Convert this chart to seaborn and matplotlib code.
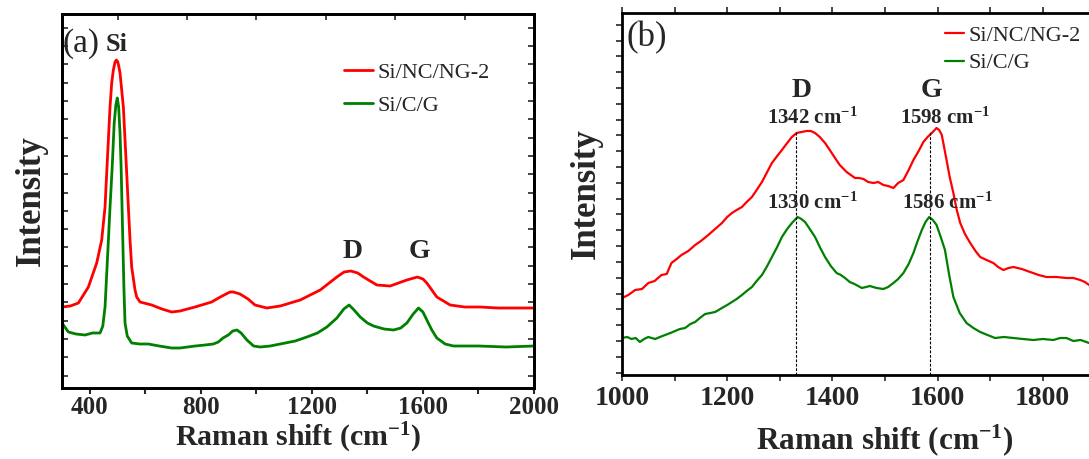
import numpy as np
import pandas as pd
import seaborn as sns
import matplotlib.pyplot as plt
from matplotlib.ticker import FixedLocator, NullFormatter

# Panel (a): full-range Raman spectra (intensity in arbitrary units)
shift_a_red = [300, 330, 359, 395, 425, 443, 455, 461, 467, 473, 479, 485, 491, 496, 501, 505,
               509, 515, 521, 527, 533, 539, 545, 551, 563, 569, 581, 623, 660, 695, 725, 779,
               839, 870, 905, 917, 941, 970, 995, 1038, 1086, 1158, 1230, 1290, 1316, 1340, 1365,
               1386, 1434, 1482, 1542, 1580, 1600, 1614, 1650, 1698, 1750, 1806, 1870, 1926, 2000]
int_a_red = [81, 82, 85, 101, 125, 148, 181, 215, 248, 281, 305, 318, 326, 328, 326, 321,
             315, 298, 281, 248, 215, 181, 148, 121, 98, 91, 86, 83, 79, 76, 77, 81,
             86, 91, 96, 96, 94, 89, 83, 80, 82, 88, 98, 111, 116, 117, 115,
             111, 103, 102, 108, 111, 109, 105, 91, 83, 81, 81, 80, 80, 80]

shift_a_green = [300, 323, 350, 383, 410, 437, 447, 455, 463, 473, 481, 488, 494, 499, 504, 509,
                 513, 519, 523, 527, 535, 551, 580, 611, 650, 695, 725, 780, 815, 845, 863, 880,
                 899, 915, 930, 945, 966, 990, 1014, 1050, 1086, 1140, 1182, 1220, 1254, 1290,
                 1315, 1334, 1352, 1374, 1400, 1422, 1460, 1494, 1520, 1542, 1565, 1584, 1600,
                 1614, 1632, 1650, 1680, 1710, 1800, 1900, 2000]
int_a_green = [65, 56, 54, 53, 55, 55, 62, 81, 125, 181, 222, 265, 283, 290, 281, 255,
               220, 148, 100, 65, 52, 45, 44, 44, 42, 40, 40, 42, 43, 44, 46, 50,
               53, 57, 58, 55, 48, 42, 41, 42, 44, 47, 51, 55, 61, 70,
               79, 83, 78, 71, 65, 62, 59, 58, 60, 65, 74, 80, 76,
               68, 58, 50, 44, 42, 42, 41, 42]

# Panel (b): D/G band region
shift_b_red = [1000, 1012, 1025, 1038, 1050, 1062, 1075, 1085, 1094, 1104, 1113, 1126, 1139, 1150,
               1164, 1177, 1190, 1200, 1209, 1218, 1228, 1237, 1247, 1256, 1266, 1275, 1285, 1295,
               1304, 1314, 1323, 1332, 1341, 1351, 1359, 1367, 1376, 1386, 1395, 1405, 1414, 1427,
               1443, 1451, 1459, 1468, 1478, 1487, 1497, 1506, 1516, 1525, 1535, 1545, 1554, 1564,
               1573, 1581, 1589, 1598, 1603, 1608, 1617, 1623, 1630, 1636, 1643, 1652, 1662, 1672,
               1681, 1693, 1706, 1715, 1725, 1735, 1744, 1760, 1776, 1792, 1807, 1826, 1845, 1858,
               1871, 1880, 1888, 1900]
int_b_red = [77, 80, 85, 86, 92, 94, 100, 101, 112, 116, 120, 124, 130, 134,
             140, 146, 152, 158, 162, 165, 168, 173, 178, 185, 193, 202, 212, 219,
             225, 232, 238, 242, 243, 244, 244, 242, 238, 232, 225, 217, 210, 203,
             197, 197, 196, 193, 192, 193, 190, 189, 187, 192, 195, 205, 215, 224,
             233, 238, 242, 247, 245, 240, 215, 198, 182, 166, 152, 141, 132, 124,
             118, 115, 112, 108, 105, 107, 108, 106, 103, 100, 98, 98, 97, 97,
             95, 93, 90, 88]

shift_b_green = [1000, 1010, 1018, 1026, 1034, 1042, 1050, 1063, 1072, 1082, 1092, 1101, 1110, 1120,
                 1130, 1139, 1148, 1158, 1168, 1177, 1190, 1200, 1209, 1218, 1228, 1237, 1247, 1256,
                 1266, 1275, 1285, 1295, 1304, 1314, 1323, 1334, 1341, 1348, 1357, 1367, 1376, 1386,
                 1397, 1408, 1416, 1424, 1433, 1442, 1456, 1464, 1471, 1484, 1497, 1506, 1516, 1525,
                 1535, 1545, 1554, 1562, 1570, 1577, 1584, 1591, 1598, 1606, 1614, 1622, 1630, 1642,
                 1655, 1668, 1681, 1695, 1709, 1726, 1744, 1762, 1782, 1800, 1820, 1833, 1845, 1858,
                 1872, 1888, 1900]
int_b_green = [37, 38, 36, 37, 33, 36, 38, 36, 38, 40, 42, 44, 46, 47,
               51, 53, 57, 61, 62, 63, 67, 70, 73, 76, 80, 84, 88, 94,
               100, 108, 118, 128, 138, 146, 152, 158, 156, 153, 146, 138, 128, 118,
               109, 102, 100, 97, 93, 91, 87, 88, 89, 87, 86, 88, 92, 96,
               102, 111, 122, 134, 145, 153, 158, 155, 150, 138, 125, 100, 78, 62,
               52, 47, 43, 40, 37, 38, 37, 36, 35, 36, 35, 37, 37, 34,
               35, 32, 33]

labels = ['Si/NC/NG-2', 'Si/C/G']
colors = ['#ff0000', '#008000']

d_peaks = [1330, 1586]
red_peak_labels = ['1342 cm$^{-1}$', '1598 cm$^{-1}$']
green_peak_labels = ['1330 cm$^{-1}$', '1586 cm$^{-1}$']

sns.set_style('ticks')
plt.rcParams['font.family'] = ['Liberation Serif', 'DejaVu Serif']
plt.rcParams['mathtext.fontset'] = 'custom'
plt.rcParams['mathtext.rm'] = 'Liberation Serif:bold'
plt.rcParams['mathtext.bf'] = 'Liberation Serif:bold'
plt.rcParams['mathtext.it'] = 'Liberation Serif:bold'
plt.rcParams['mathtext.default'] = 'bf'

fig = plt.figure(figsize=(10.89, 4.59), dpi=100)
ax1 = fig.add_axes([62 / 1089, 71 / 459, 472 / 1089, 374 / 459])
ax2 = fig.add_axes([622 / 1089, 84 / 459, 526 / 1089, 362 / 459])

# ---- panel (a)
sns.lineplot(x=shift_a_red, y=int_a_red, ax=ax1, color=colors[0], lw=2.0, label=labels[0],
             estimator=None, sort=False)
sns.lineplot(x=shift_a_green, y=int_a_green, ax=ax1, color=colors[1], lw=2.0, label=labels[1],
             estimator=None, sort=False)
ax1.set_xlim(300, 2000)
ax1.set_ylim(0, 374)
ax1.xaxis.set_major_locator(FixedLocator([400, 800, 1200, 1600, 2000]))
ax1.xaxis.set_minor_locator(FixedLocator([600, 1000, 1400, 1800]))
ax1.yaxis.set_major_locator(FixedLocator(np.arange(12.5, 374, 18.3)))
ax1.yaxis.set_major_formatter(NullFormatter())
ax1.tick_params(axis='x', which='both', direction='out', length=4, width=1.5, top=False,
                labelsize=18, pad=2)
ax1.tick_params(axis='y', which='both', direction='in', length=4, width=1.2, right=True)
for lab in ax1.get_xticklabels():
    lab.set_fontweight('bold')
ax1_top = ax1.twiny()
ax1_top.set_xlim(300, 2000)
ax1_top.xaxis.set_major_locator(FixedLocator(np.arange(500, 2001, 250)))
ax1_top.xaxis.set_major_formatter(NullFormatter())
ax1_top.tick_params(axis='x', direction='in', length=4, width=1.2)
ax1.set_xlabel('Raman shift (cm$^{-1}$)', fontsize=21.5, fontweight='bold', labelpad=1)
ax1.set_ylabel('Intensity', fontsize=25, fontweight='bold', labelpad=7)
ax1.text(0.0, 0.92, '(a)', transform=ax1.transAxes, fontsize=24, ha='left', va='center')
ax1.text(498, 344, 'Si', fontsize=19, fontweight='bold', ha='center', va='center')
ax1.text(1345, 136, 'D', fontsize=20, fontweight='bold', ha='center', va='center')
ax1.text(1586, 136, 'G', fontsize=20, fontweight='bold', ha='center', va='center')
ax1.legend(loc='upper left', bbox_to_anchor=(0.578, 0.895), frameon=False, fontsize=16,
           handlelength=1.3, handletextpad=0.2, labelspacing=0.58, borderaxespad=0)
for sp in list(ax1.spines.values()) + list(ax1_top.spines.values()):
    sp.set_linewidth(2)
    sp.set_color('black')

# ---- panel (b)
sns.lineplot(x=shift_b_red, y=int_b_red, ax=ax2, color=colors[0], lw=1.6, label=labels[0],
             estimator=None, sort=False)
sns.lineplot(x=shift_b_green, y=int_b_green, ax=ax2, color=colors[1], lw=1.6, label=labels[1],
             estimator=None, sort=False)
ax2.vlines(d_peaks, 0, [243, 244], colors='black', linestyles=(0, (2.5, 1.5)), lw=0.8)
ax2.set_xlim(1000, 2000)
ax2.set_ylim(0, 362)
ax2.xaxis.set_major_locator(FixedLocator([1000, 1200, 1400, 1600, 1800]))
ax2.xaxis.set_minor_locator(FixedLocator([1100, 1300, 1500, 1700, 1900]))
ax2.yaxis.set_major_locator(FixedLocator(np.arange(2.5, 362, 15.8)))
ax2.yaxis.set_major_formatter(NullFormatter())
ax2.tick_params(axis='x', which='both', direction='out', length=4, width=1.2, top=True,
                labelsize=20, pad=4)
ax2.tick_params(axis='y', which='both', direction='out', length=4, width=1.2)
for lab in ax2.get_xticklabels():
    lab.set_fontweight('bold')
ax2.set_xlabel('Raman shift (cm$^{-1}$)', fontsize=22.5, fontweight='bold', labelpad=8)
ax2.set_ylabel('Intensity', fontsize=25, fontweight='bold', labelpad=6)
ax2.text(0.008, 0.931, '(b)', transform=ax2.transAxes, fontsize=25, ha='left', va='center')
ax2.text(1341, 284, 'D', fontsize=20, fontweight='bold', ha='center', va='center')
ax2.text(1589, 284, 'G', fontsize=20, fontweight='bold', ha='center', va='center')
for xp, t in zip([1361, 1614], red_peak_labels):
    ax2.text(xp, 257, t, fontsize=15, fontweight='bold', ha='center', va='center')
for xp, t in zip([1361, 1618], green_peak_labels):
    ax2.text(xp, 172, t, fontsize=15, fontweight='bold', ha='center', va='center')
ax2.legend(loc='upper left', bbox_to_anchor=(0.598, 0.99), frameon=False, fontsize=16,
           handlelength=0.85, handletextpad=0.2, labelspacing=0.3, borderaxespad=0)
for sp in ax2.spines.values():
    sp.set_linewidth(2)
    sp.set_color('black')

fig.savefig('out.png', dpi=100)
